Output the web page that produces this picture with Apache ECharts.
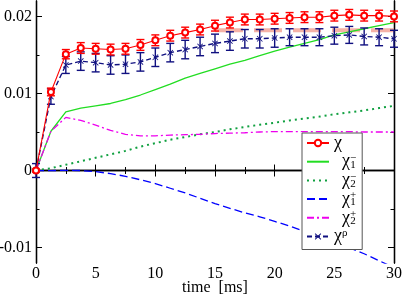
<!DOCTYPE html>
<html>
<head>
<meta charset="utf-8">
<script src="https://cdn.jsdelivr.net/npm/echarts@6/dist/echarts.min.js"></script>
<style>html,body{margin:0;padding:0;background:#fff;}#c{width:403px;height:296px;}</style>
</head>
<body>
<div id="c"></div>
<script>
const times = [0, 1.25, 2.5, 3.75, 5, 6.25, 7.5, 8.75, 10, 11.25, 12.5, 13.75, 15, 16.25, 17.5, 18.75, 20, 21.25, 22.5, 23.75, 25, 26.25, 27.5, 28.75, 30];
const chi    = [0, 0.0102, 0.0151, 0.0159, 0.0158, 0.0157, 0.0158, 0.0163, 0.0169, 0.0175, 0.0179, 0.0183, 0.0188, 0.0192, 0.0196, 0.0196, 0.0197, 0.0198, 0.0199, 0.0199, 0.0201, 0.0202, 0.0201, 0.0201, 0.0200];
const chiErr = [0.0002, 0.0005, 0.0006, 0.0007, 0.0007, 0.0007, 0.0007, 0.0007, 0.0007, 0.0007, 0.0007, 0.0007, 0.0007, 0.0007, 0.0007, 0.0007, 0.0007, 0.0007, 0.0007, 0.0007, 0.0007, 0.0007, 0.0007, 0.0007, 0.0007];
const chiRho = [0, 0.0096, 0.0137, 0.0142, 0.0140, 0.0137, 0.0138, 0.0141, 0.0147, 0.0153, 0.0157, 0.0161, 0.0165, 0.0168, 0.0171, 0.0171, 0.0172, 0.0173, 0.0173, 0.0173, 0.0175, 0.0176, 0.0174, 0.0173, 0.0171];
const rhoErr = [0.0009, 0.0010, 0.0011, 0.0012, 0.0012, 0.0012, 0.0012, 0.0012, 0.0012, 0.0012, 0.0012, 0.0012, 0.0012, 0.0012, 0.0012, 0.0012, 0.0012, 0.0011, 0.0011, 0.0011, 0.0011, 0.0011, 0.0011, 0.0011, 0.0011];
const chi1m  = [0, 0.0051, 0.0076, 0.0081, 0.0084, 0.0087, 0.0092, 0.0098, 0.0105, 0.0112, 0.0120, 0.0126, 0.0132, 0.0138, 0.0143, 0.0149, 0.0155, 0.0160, 0.0165, 0.0170, 0.0176, 0.0180, 0.0184, 0.0188, 0.0192];
const chi2m  = [0, 0.0003, 0.00075, 0.0012, 0.00165, 0.0021, 0.00255, 0.0031, 0.00355, 0.0040, 0.00435, 0.0047, 0.0050, 0.00535, 0.00565, 0.00595, 0.0062, 0.0065, 0.00675, 0.0070, 0.0073, 0.00755, 0.0078, 0.0081, 0.0084];
const chi1p  = [0, 0, 0.00002, 0, -0.00015, -0.0004, -0.00075, -0.0012, -0.0017, -0.0023, -0.0029, -0.0036, -0.0043, -0.0049, -0.0055, -0.0060, -0.0066, -0.0072, -0.0079, -0.0086, -0.0093, -0.0100, -0.0108, -0.0117, -0.0126];
const chi2p  = [0, 0.0051, 0.0069, 0.0065, 0.0059, 0.0052, 0.0047, 0.0045, 0.0045, 0.0046, 0.00465, 0.0047, 0.0048, 0.00485, 0.0049, 0.0050, 0.00505, 0.00505, 0.00505, 0.00505, 0.00505, 0.00505, 0.0050, 0.0050, 0.0050];
const refT = [15, 30];
const refV = [0.0182, 0.0182];
const yMajor = [-0.01, 0, 0.01, 0.02];
const yMinor = [-0.005, 0.005, 0.015];

const FONT = "'Liberation Serif', 'DejaVu Serif', serif";
const pairs = arr => times.map((t, i) => [t, arr[i]]);
const errData = (v, e) => times.map((t, i) => [t, v[i], e[i]]);

function errRender(color) {
  return function (params, api) {
    const x = api.value(0), y = api.value(1), e = api.value(2);
    const a = api.coord([x, y + e]), b = api.coord([x, y - e]);
    const w = 4;
    const st = { stroke: color, lineWidth: 1.4 };
    return { type: 'group', children: [
      { type: 'line', shape: { x1: a[0], y1: a[1], x2: b[0], y2: b[1] }, style: st },
      { type: 'line', shape: { x1: a[0] - w, y1: a[1], x2: a[0] + w, y2: a[1] }, style: st },
      { type: 'line', shape: { x1: b[0] - w, y1: b[1], x2: b[0] + w, y2: b[1] }, style: st }
    ]};
  };
}

const axisLine = { show: true, lineStyle: { color: '#000', width: 1.3 } };
function yAx(pos, vals, len, labels) {
  return {
    type: 'value', min: -0.012, max: 0.022, position: pos,
    axisLine: axisLine, splitLine: { show: false },
    axisTick: { show: true, inside: true, length: len, customValues: vals, lineStyle: { color: '#000' } },
    axisLabel: labels ? {
      show: true, customValues: vals, fontFamily: FONT, fontSize: 16, color: '#000', margin: 4,
      formatter: v => (Math.abs(v) < 1e-9 ? '0' : v.toFixed(2))
    } : { show: false }
  };
}
function xAx(pos, labels) {
  const o = {
    type: 'value', min: 0, max: 30, interval: 5, position: pos,
    axisLine: axisLine, splitLine: { show: false },
    axisTick: { show: true, inside: true, length: 6, lineStyle: { color: '#000' } },
    minorTick: { show: true, splitNumber: 2, length: 3.5, lineStyle: { color: '#000' } },
    minorSplitLine: { show: false },
    axisLabel: labels ? { show: true, fontFamily: FONT, fontSize: 16, color: '#000', margin: 3 } : { show: false }
  };
  if (labels) {
    o.name = 'time  [ms]';
    o.nameLocation = 'middle';
    o.nameGap = 17;
    o.nameMoveOverlap = false;
    o.nameTextStyle = { fontFamily: FONT, fontSize: 16, color: '#000' };
  }
  return o;
}

const legendText = {
  'χ': '{x|χ}',
  'χ1-': '{g| }{x|χ}{sup|−}{sub|1}',
  'χ2-': '{g| }{x|χ}{sup|−}{sub|2}',
  'χ1+': '{g| }{x|χ}{sup|+}{sub|1}',
  'χ2+': '{g| }{x|χ}{sup|+}{sub|2}',
  'χρ': '{x|χ}{sup|ρ}'
};
const hideSym = { opacity: 0 };

const crossPath = 'path://M0,1L1,0L5,4L9,0L10,1L6,5L10,9L9,10L5,6L1,10L0,9L4,5Z';

const option = {
  animation: false,
  backgroundColor: '#fff',
  grid: { left: 36, right: 9, top: 1, bottom: 33, containLabel: false, outerBoundsMode: 'none' },
  xAxis: [xAx('bottom', true), xAx('top', false)],
  yAxis: [yAx('left', yMajor, 6, true), yAx('left', yMinor, 3.5, false), yAx('right', yMajor, 6, false), yAx('right', yMinor, 3.5, false)],
  legend: {
    orient: 'vertical', left: 302, top: 133,
    padding: [1, 6, 4, 4],
    itemGap: 0.7, itemWidth: 22, itemHeight: 8,
    borderColor: '#555', borderWidth: 1, backgroundColor: '#fff',
    data: [
      { name: 'χ' },
      { name: 'χ1-', itemStyle: hideSym },
      { name: 'χ2-', itemStyle: hideSym },
      { name: 'χ1+', itemStyle: hideSym },
      { name: 'χ2+', itemStyle: hideSym },
      { name: 'χρ' }
    ],
    formatter: n => legendText[n],
    textStyle: {
      fontFamily: FONT, color: '#000',
      rich: {
        x: { fontFamily: FONT, fontSize: 18, lineHeight: 18, color: '#000' },
        g: { width: 8, fontSize: 8 },
        sup: { fontFamily: FONT, fontSize: 11, lineHeight: 8, verticalAlign: 'top', color: '#000' },
        sub: { fontFamily: FONT, fontSize: 11, lineHeight: 8, verticalAlign: 'bottom', color: '#000', padding: [0, 0, 0, -6] }
      }
    }
  },
  series: [
    { type: 'line', name: 'ref', data: refT.map((t, i) => [t, refV[i]]), symbol: 'none',
      lineStyle: { color: '#f08878', width: 4, opacity: 0.65, type: [28, 11] }, z: 1 },
    { type: 'line', name: 'χ1-', data: pairs(chi1m), symbol: 'none',
      lineStyle: { color: '#22dd22', width: 1.3 }, itemStyle: { color: '#22dd22' }, z: 2 },
    { type: 'line', name: 'χ2-', data: pairs(chi2m), symbol: 'none',
      lineStyle: { color: '#10a040', width: 2, type: [2, 4] }, itemStyle: { color: '#10a040' }, z: 2 },
    { type: 'line', name: 'χ1+', data: pairs(chi1p), symbol: 'none',
      lineStyle: { color: '#0000ff', width: 1.3, type: [8, 4] }, itemStyle: { color: '#0000ff' }, z: 2 },
    { type: 'line', name: 'χ2+', data: pairs(chi2p), symbol: 'none',
      lineStyle: { color: '#ee00ee', width: 1.3, type: [7, 3, 2, 3] }, itemStyle: { color: '#ee00ee' }, z: 2 },
    { type: 'custom', name: 'rhoErr', data: errData(chiRho, rhoErr), renderItem: errRender('#101080'),
      encode: { x: 0, y: 1 }, z: 3 },
    { type: 'line', name: 'χρ', data: pairs(chiRho), symbol: crossPath, symbolSize: 6,
      lineStyle: { color: '#101080', width: 1.4, type: [5, 3] }, itemStyle: { color: '#101080' }, z: 4 },
    { type: 'custom', name: 'chiErr', data: errData(chi, chiErr), renderItem: errRender('#ff0000'),
      encode: { x: 0, y: 1 }, z: 5 },
    { type: 'line', name: 'χ', data: pairs(chi), symbol: 'emptyCircle', symbolSize: 6,
      lineStyle: { color: '#ff0000', width: 1.1 }, itemStyle: { color: '#ff0000', borderWidth: 1 }, z: 6 }
  ]
};
const chart = echarts.init(document.getElementById('c'), null, { renderer: 'canvas' });
chart.setOption(option);
</script>
</body>
</html>
